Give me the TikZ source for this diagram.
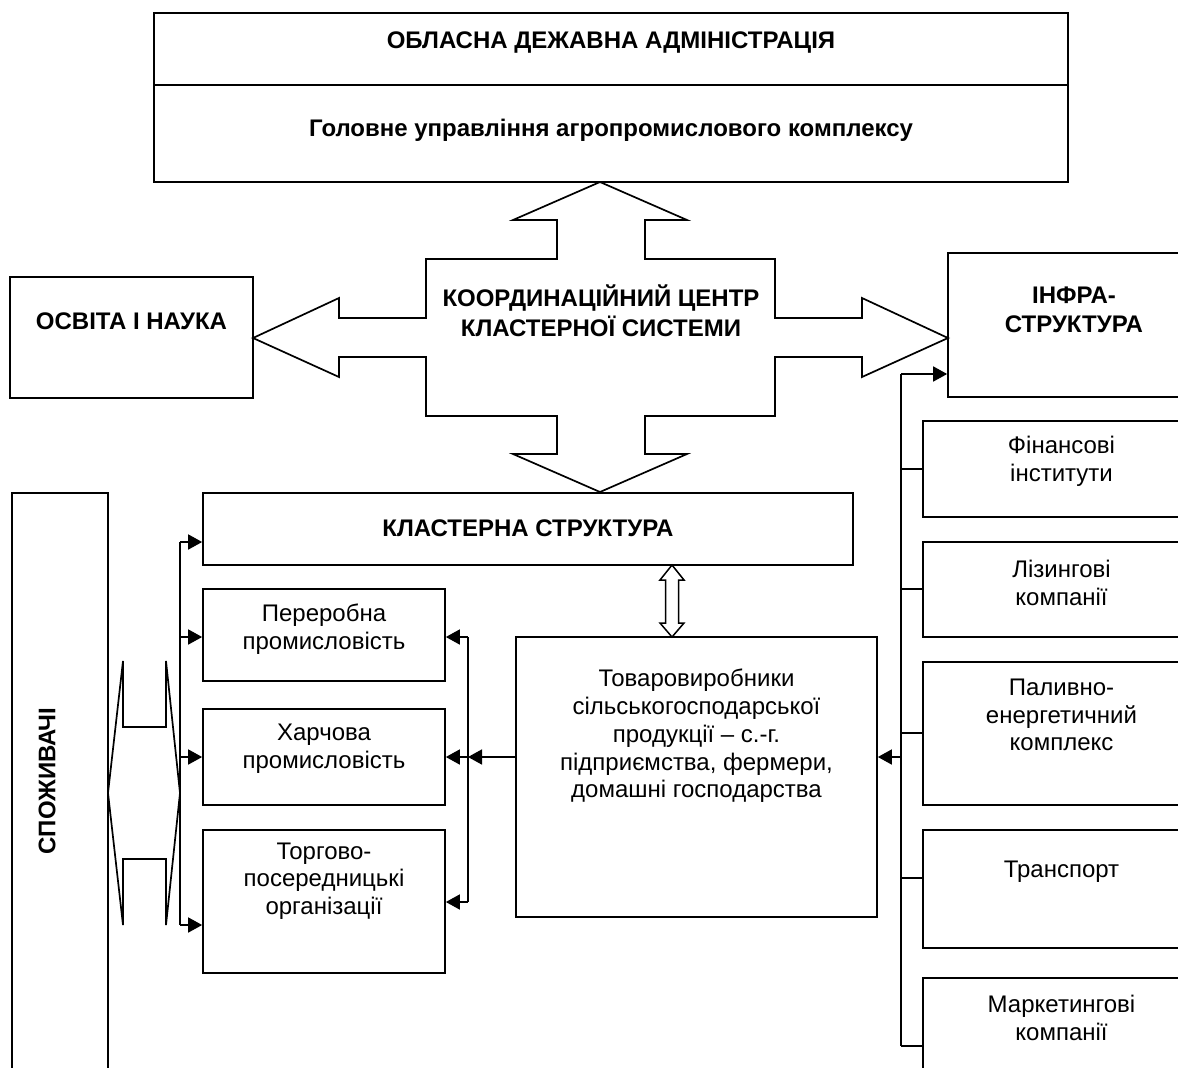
\documentclass[tikz,border=0pt]{standalone}
\usepackage{fontspec}
\setmainfont{Liberation Sans}
\usetikzlibrary{arrows.meta}
\begin{document}
\begin{tikzpicture}[x=1pt,y=-1pt,
  ln/.style={line width=1.7pt},
  box/.style={draw,line width=1.7pt,inner sep=0pt,minimum width=#1},
  arr/.style={line width=1.7pt,-{Triangle[length=14pt,width=15pt]}},
  reg/.style={align=center,inner sep=0pt,font=\fontsize{24}{27.7}\selectfont},
  bld/.style={align=center,inner sep=0pt,font=\fontsize{24}{29.5}\selectfont\bfseries},
  shape2/.style={draw,line width=1.7pt,line join=miter}]
\clip (0,0) rectangle (1178,1068);
% top box
\node[box=914,minimum height=72] (adm) at (611,49) {};
\node[box=914,minimum height=97] (gu) at (611,133.5) {};
\node[bld] (admt) at (611,43) {ОБЛАСНА ДЕЖАВНА АДМІНІСТРАЦІЯ};
\node[bld] (gut) at (611,130) {Головне управління агропромислового комплексу};
% side boxes
\node[box=243,minimum height=121] (osv) at (131.5,337.5) {};
\node[bld] (osvt) at (131.5,321) {ОСВІТА І НАУКА};
\node[box=252,minimum height=144] (inf) at (1074,325) {};
\node[bld] (inft) at (1074,310) {ІНФРА-\\СТРУКТУРА};
% cross arrow
\draw[shape2] (600,182) -- (687,220) -- (645,220) -- (645,259) -- (775,259) -- (775,318)
  -- (862,318) -- (862,298) -- (948,338) -- (862,377) -- (862,357) -- (775,357)
  -- (775,416) -- (645,416) -- (645,454) -- (687,454) -- (600,492) -- (513,454)
  -- (557,454) -- (557,416) -- (426,416) -- (426,357) -- (339,357) -- (339,377)
  -- (253,338) -- (339,298) -- (339,318) -- (426,318) -- (426,259) -- (557,259)
  -- (557,220) -- (513,220) -- cycle;
\node[bld] (cc) at (601,311) {КООРДИНАЦІЙНИЙ ЦЕНТР\\КЛАСТЕРНОЇ СИСТЕМИ};
% consumers
\node[box=96,minimum height=597] (spo) at (60,791.5) {};
\node[bld,rotate=90] (spot) at (47,781) {СПОЖИВАЧІ};
% cluster structure
\node[box=650,minimum height=72] (kl) at (528,529) {};
\node[bld] (klt) at (528,528) {КЛАСТЕРНА СТРУКТУРА};
\node[box=242,minimum height=92] (per) at (324,635) {};
\node[reg] (pert) at (324,629) {Переробна\\промисловість};
\node[box=242,minimum height=96] (har) at (324,757) {};
\node[reg] (hart) at (324,749) {Харчова\\промисловість};
\node[box=242,minimum height=143] (tor) at (324,901.5) {};
\node[reg] (tort) at (324,881) {Торгово-\\посередницькі\\організації};
\node[box=361,minimum height=280] (tov) at (696.5,777) {};
\node[reg] (tovt) at (696.5,736) {Товаровиробники\\сільськогосподарської\\продукції – с.-г.\\підприємства, фермери,\\домашні господарства};
% right column
\node[box=277,minimum height=96] (fin) at (1061.5,469) {};
\node[reg] (fint) at (1061.5,461) {Фінансові\\інститути};
\node[box=277,minimum height=95] (liz) at (1061.5,589.5) {};
\node[reg] (lizt) at (1061.5,583) {Лізингові\\компанії};
\node[box=277,minimum height=143] (pal) at (1061.5,733.5) {};
\node[reg] (palt) at (1061.5,715) {Паливно-\\енергетичний\\комплекс};
\node[box=277,minimum height=118] (tra) at (1061.5,889) {};
\node[reg] (trat) at (1061.5,872) {Транспорт};
\node[box=277,minimum height=112] (mar) at (1061.5,1034) {};
\node[reg] (mart) at (1061.5,1018) {Маркетингові\\компанії};
% small hollow double arrow
\draw[shape2,line width=1.5pt] (672,565) -- (684,580) -- (678.5,580) -- (678.5,623) -- (684,623)
  -- (672,637) -- (660,623) -- (665.5,623) -- (665.5,580) -- (660,580) -- cycle;
% sideways double arrow
\draw[shape2] (108,793) -- (123,661) -- (123,727) -- (166,727) -- (166,661) -- (180,793)
  -- (166,925) -- (166,859) -- (123,859) -- (123,925) -- cycle;
% left bus
\coordinate (lb1) at (180,542);
\coordinate (lb2) at (180,637);
\coordinate (lb3) at (180,757);
\coordinate (lb4) at (180,925);
\draw[ln] (lb1) -- (lb4);
\draw[arr] (lb1) -- (lb1 -| kl.west);
\draw[arr] (lb2) -- (lb2 -| per.west);
\draw[arr] (lb3) -- (lb3 -| har.west);
\draw[arr] (lb4) -- (lb4 -| tor.west);
% middle bus
\coordinate (mb1) at (468,637);
\coordinate (mb2) at (468,757);
\coordinate (mb3) at (468,902);
\draw[ln] (mb1) -- (mb3);
\draw[arr] (mb1) -- (mb1 -| per.east);
\draw[arr] (mb2) -- (mb2 -| har.east);
\draw[arr] (mb3) -- (mb3 -| tor.east);
\draw[arr] (mb2 -| tov.west) -- (mb2);
% right bus
\coordinate (rb0) at (901,374);
\coordinate (rb1) at (901,469);
\coordinate (rb2) at (901,589);
\coordinate (rb3) at (901,733);
\coordinate (rbt) at (901,757);
\coordinate (rb4) at (901,878);
\coordinate (rb5) at (901,1046);
\draw[ln] (rb0) -- (rb5);
\draw[arr] (rb0) -- (rb0 -| inf.west);
\draw[ln] (rb1) -- (rb1 -| fin.west);
\draw[ln] (rb2) -- (rb2 -| liz.west);
\draw[ln] (rb3) -- (rb3 -| pal.west);
\draw[ln] (rb4) -- (rb4 -| tra.west);
\draw[ln] (rb5) -- (rb5 -| mar.west);
\draw[arr] (rbt) -- (rbt -| tov.east);
\end{tikzpicture}
\end{document}
